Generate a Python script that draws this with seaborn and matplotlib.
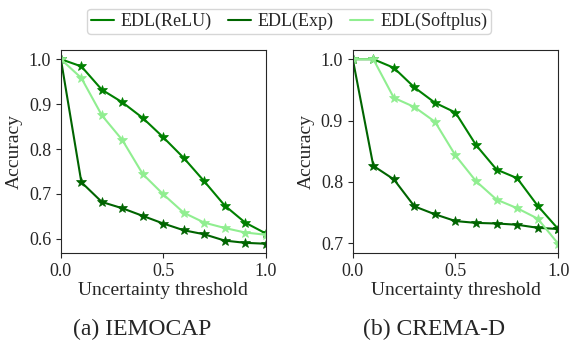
import numpy as np
import pandas as pd
import matplotlib.pyplot as plt
import seaborn as sns

thresholds = [0.0, 0.1, 0.2, 0.3, 0.4, 0.5, 0.6, 0.7, 0.8, 0.9, 1.0]
methods = ["EDL(ReLU)", "EDL(Exp)", "EDL(Softplus)"]
colors = ["#008000", "#006400", "#90EE90"]

iemocap_relu = [1.0, 0.984, 0.932, 0.904, 0.869, 0.826, 0.780, 0.728, 0.674, 0.636, 0.612]
iemocap_exp = [1.0, 0.726, 0.682, 0.668, 0.651, 0.634, 0.619, 0.610, 0.596, 0.591, 0.589]
iemocap_softplus = [1.0, 0.958, 0.875, 0.820, 0.744, 0.699, 0.658, 0.636, 0.624, 0.614, 0.609]

crema_relu = [1.0, 1.0, 0.986, 0.954, 0.929, 0.913, 0.860, 0.820, 0.806, 0.761, 0.723]
crema_exp = [1.0, 0.826, 0.804, 0.760, 0.747, 0.736, 0.733, 0.732, 0.730, 0.725, 0.723]
crema_softplus = [1.0, 1.0, 0.937, 0.922, 0.898, 0.843, 0.801, 0.771, 0.757, 0.740, 0.699]

panels = [
    ("(a) IEMOCAP", [iemocap_relu, iemocap_exp, iemocap_softplus], [0.6, 0.7, 0.8, 0.9, 1.0]),
    ("(b) CREMA-D", [crema_relu, crema_exp, crema_softplus], [0.7, 0.8, 0.9, 1.0]),
]

sns.set_style("ticks")
plt.rcParams["font.family"] = ["Liberation Serif", "DejaVu Serif"]

fig = plt.figure(figsize=(5.69, 3.4), dpi=100)
positions = [[0.107, 0.256, 0.360, 0.597], [0.620, 0.256, 0.361, 0.597]]

for pos, (caption, series, yticks) in zip(positions, panels):
    ax = fig.add_axes(pos)
    for vals, c in zip(series, colors):
        sns.lineplot(x=thresholds, y=vals, color=c, marker="*", markersize=7.5,
                     markeredgecolor=c, markeredgewidth=0.5, linewidth=1.5, ax=ax)
    ax.set_xlim(0, 1)
    ax.set_xticks([0.0, 0.5, 1.0])
    ax.set_yticks(yticks)
    ax.set_xlabel("Uncertainty threshold", fontsize=14, labelpad=2)
    ax.set_ylabel("Accuracy", fontsize=14, labelpad=4)
    ax.tick_params(labelsize=13, length=3.5)
    cx = pos[0] + pos[2] / 2 - 0.037
    fig.text(cx, 0.03, caption, ha="center", va="center", fontsize=17)

handles = [plt.Line2D([], [], color=c, lw=1.5) for c in colors]
fig.legend(handles, methods, loc="upper center", bbox_to_anchor=(0.508, 0.985),
           ncol=3, fontsize=13, frameon=True, handlelength=1.25, columnspacing=0.9,
           handletextpad=0.4, borderpad=0.2, borderaxespad=0.2)

fig.savefig("out.png", dpi=100)
